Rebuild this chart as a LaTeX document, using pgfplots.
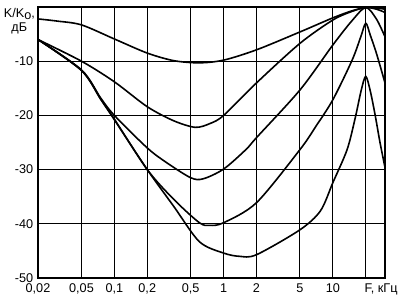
\documentclass[border=0pt]{standalone}
\usepackage{fontspec}
\setmainfont{Liberation Sans}
\usepackage{pgfplots}
\pgfplotsset{compat=1.18}
\begin{document}
\begin{tikzpicture}
\begin{axis}[
  scale only axis,
  width=260.25pt, height=203.25pt,
  xmode=log,
  xmin=0.02, xmax=30,
  ymin=-50, ymax=0,
  xtick={0.02,0.05,0.1,0.2,0.5,1,2,5,10,20},
  xticklabels={{0,02},{0,05},{0,1},{0,2},{0,5},1,2,5,10,{}},
  ytick={-50,-40,-30,-20,-10,0},
  yticklabels={-50,-40,-30,-20,-10,{}},
  minor tick num=0,
  major tick length=0pt,
  grid=major,
  major grid style={black, line width=0.75pt},
  axis line style={black, line width=1pt},
  tick label style={font=\fontsize{9.5}{11}\selectfont, text=black},
  xticklabel style={yshift=-1pt},
  curve/.style={black, line width=1.2pt, smooth, mark=none},
]
\coordinate (o) at (rel axis cs:0,0);
\coordinate (tl) at (rel axis cs:0,1);
\coordinate (br) at (rel axis cs:1,0);
% curve 1
\addplot[curve] coordinates {(0.02,-2.2) (0.03,-2.6) (0.05,-3.3) (0.1,-5.9) (0.2,-8.5) (0.35,-9.9) (0.6,-10.3) (1,-9.8) (2,-7.9) (5,-4.6) (10,-2.0) (15,-0.7) (20,-0.1) (25,-0.2) (30,-0.4)};
% curve 2
\addplot[curve] coordinates {(0.02,-6.0) (0.05,-10.0) (0.1,-13.8) (0.2,-18.4) (0.35,-21.0) (0.55,-22.2) (0.75,-21.5) (1,-20.0) (2,-14.0) (5,-6.7) (10,-2.4) (15,-0.8) (20,-0.1) (25,-0.4) (30,-1.0)};
% curve 3
\addplot[curve] coordinates {(0.02,-6) (0.05,-11.6) (0.075,-16.8) (0.1,-20.0) (0.2,-26) (0.3,-28.7) (0.5,-31.5) (0.65,-31.7) (1,-29.9) (1.6,-26.3) (2,-24.1) (5,-15.3) (10,-7) (15,-2.5) (20,-0.1) (25,-2.2) (30,-5.5)};
% curve 4
\addplot[curve] coordinates {(0.02,-6) (0.05,-11.7) (0.075,-17.0) (0.1,-20.7) (0.2,-30.0) (0.35,-35.5) (0.6,-39.8) (0.75,-40.3) (1,-39.8) (2,-36.1) (5,-26.3) (7,-22) (10,-17.1) (15,-9.8) (18,-5.5) (20,-3.0) (22,-5.2) (25,-8.5) (30,-14)};
% curve 5
\addplot[curve] coordinates {(0.02,-6) (0.05,-11.7) (0.075,-17.0) (0.1,-20.8) (0.2,-30.0) (0.35,-36.8) (0.6,-43.3) (1,-45.4) (1.4,-46.0) (2,-45.7) (5,-41.1) (7.7,-37.6) (10,-32.4) (13.5,-26.3) (16,-20.5) (18.2,-15.3) (20,-12.8) (22,-15.5) (24.4,-20) (27,-25) (30,-29.6)};
\end{axis}
\node[align=center, font=\fontsize{9.5}{10.5}\selectfont, inner sep=0pt] at ([xshift=-14pt,yshift=-10.5pt]tl) {K/K\raisebox{-0.25ex}{o},\\дБ};
\node[font=\fontsize{9.5}{11}\selectfont, anchor=north, inner sep=0pt] at ([xshift=-3pt,yshift=-4.3pt]br) {F, кГц};
\path[use as bounding box] (o) ++(-28.5pt,-17.25pt) rectangle ++(300pt,225.75pt);
\end{tikzpicture}
\end{document}
